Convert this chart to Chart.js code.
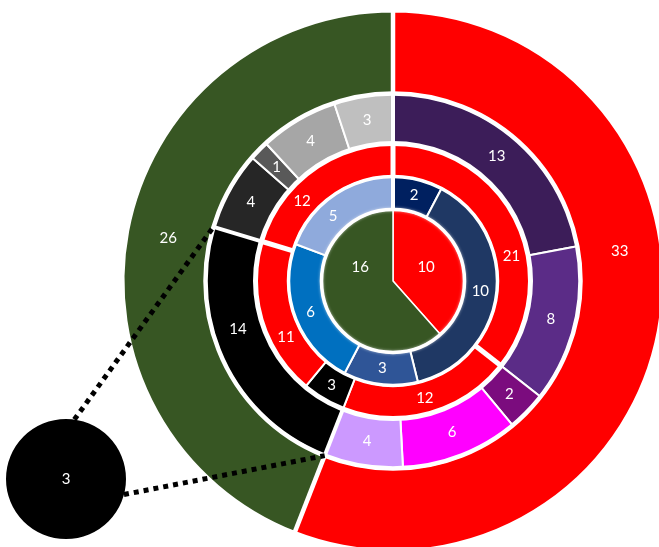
<!DOCTYPE html>
<html>
<head>
<meta charset="utf-8">
<script src="https://cdn.jsdelivr.net/npm/chart.js@4.4.1/dist/chart.umd.min.js"></script>
<style>
  html, body { margin: 0; padding: 0; background: #ffffff; overflow: hidden; width: 659px; height: 547px; }
  #main { position: absolute; left: 0; top: 0; }
  #bubble { position: absolute; left: 1px; top: 414px; }
</style>
</head>
<body>
<canvas id="main" width="680" height="560"></canvas>
<canvas id="bubble" width="130" height="130"></canvas>
<script>
// Values for each ring, listed clockwise from twelve o'clock
const outerValues = [33, 26];
const outerColors = ['#FF0000', '#375623'];

const ring4Values = [13, 8, 2, 6, 4, 14, 4, 1, 4, 3];
const ring4Colors = ['#3C1D59', '#5B2C87', '#7B0C7E', '#FF00FF', '#CC99FF',
                     '#000000', '#262626', '#595959', '#A6A6A6', '#BFBFBF'];

const ring3Values = [21, 12, 3, 11, 12];
const ring3Colors = ['#FF0000', '#FF0000', '#000000', '#FF0000', '#FF0000'];

const ring2Values = [2, 10, 3, 6, 5];
const ring2Colors = ['#002060', '#1F3864', '#2F5597', '#0070C0', '#8FAADC'];

const coreValues = [10, 16];
const coreColors = ['#FF0000', '#375623'];

const calloutValues = [3];
const calloutColors = ['#000000'];

const LABEL_FONT = '15px Lato, "Open Sans", sans-serif';

// Writes each slice's value inside the slice
const valueLabels = {
  id: 'valueLabels',
  afterDatasetsDraw(chart) {
    const ctx = chart.ctx;
    ctx.save();
    ctx.font = LABEL_FONT;
    ctx.fillStyle = '#FFFFFF';
    ctx.textAlign = 'center';
    ctx.textBaseline = 'middle';
    chart.data.datasets.forEach((ds, di) => {
      const meta = chart.getDatasetMeta(di);
      meta.data.forEach((arc, i) => {
        const f = ds.labelAt ? ds.labelAt[i] : 0.5;
        const fr = ds.labelRadius !== undefined ? ds.labelRadius : 0.5;
        const a = arc.startAngle + f * (arc.endAngle - arc.startAngle);
        const r = arc.innerRadius + fr * (arc.outerRadius - arc.innerRadius);
        ctx.fillText(String(ds.data[i]), arc.x + r * Math.cos(a), arc.y + r * Math.sin(a));
      });
    });
    ctx.restore();
  }
};

// White gaps between rings and wider cuts at group boundaries
const ringGaps = {
  id: 'ringGaps',
  afterDatasetsDraw(chart, args, opts) {
    const ctx = chart.ctx;
    const n = chart.data.datasets.length;
    ctx.save();
    ctx.strokeStyle = '#FFFFFF';
    ctx.lineCap = 'butt';
    for (let di = 1; di < n; di++) {
      const arc = chart.getDatasetMeta(di).data[0];
      ctx.lineWidth = opts.ringWidths[di - 1];
      if (di === n - 1) { ctx.shadowColor = 'rgba(255,255,255,0.55)'; ctx.shadowBlur = 3; }
      ctx.beginPath();
      ctx.arc(arc.x, arc.y, arc.outerRadius, 0, Math.PI * 2);
      ctx.stroke();
      ctx.shadowBlur = 0;
    }
    chart.data.datasets.forEach((ds, di) => {
      if (!ds.cutAfter) return;
      const meta = chart.getDatasetMeta(di);
      ctx.lineWidth = ds.cutWidth;
      ds.cutAfter.forEach(i => {
        const arc = meta.data[i];
        const a = arc.endAngle;
        const r0 = Math.max(arc.innerRadius - 1, 0), r1 = arc.outerRadius + 1;
        ctx.beginPath();
        ctx.moveTo(arc.x + r0 * Math.cos(a), arc.y + r0 * Math.sin(a));
        ctx.lineTo(arc.x + r1 * Math.cos(a), arc.y + r1 * Math.sin(a));
        ctx.stroke();
      });
    });
    ctx.restore();
  }
};

// Dotted leader lines from the callout circle to the black slice of the second ring
const calloutLines = {
  id: 'calloutLines',
  afterDatasetsDraw(chart, args, opts) {
    if (typeof calloutChart === 'undefined' || !calloutChart) return;
    const b = calloutChart.getDatasetMeta(0).data[0];
    const bx = calloutChart.canvas.offsetLeft - chart.canvas.offsetLeft + b.x;
    const by = calloutChart.canvas.offsetTop - chart.canvas.offsetTop + b.y;
    const br = b.outerRadius;
    const t = chart.getDatasetMeta(opts.dataset).data[opts.index];
    const ends = [t.endAngle, t.startAngle];
    const ctx = chart.ctx;
    ctx.save();
    ctx.strokeStyle = '#000000';
    ctx.lineWidth = 5;
    ctx.lineCap = 'butt';
    ctx.setLineDash([5, 5]);
    opts.fromAngles.forEach((deg, k) => {
      const a = deg * Math.PI / 180;
      ctx.beginPath();
      ctx.moveTo(bx + br * Math.cos(a), by + br * Math.sin(a));
      ctx.lineTo(t.x + t.outerRadius * Math.cos(ends[k]), t.y + t.outerRadius * Math.sin(ends[k]));
      ctx.stroke();
    });
    ctx.restore();
  }
};

// Callout circle
const calloutChart = new Chart(document.getElementById('bubble'), {
  type: 'pie',
  data: {
    labels: ['3'],
    datasets: [{
      data: calloutValues,
      backgroundColor: calloutColors,
      borderWidth: 0,
      labelRadius: 0
    }]
  },
  options: {
    responsive: false,
    animation: false,
    layout: { padding: 5 },
    plugins: { legend: { display: false }, tooltip: { enabled: false } },
    events: []
  },
  plugins: [valueLabels]
});

// Main multi-level ring chart
new Chart(document.getElementById('main'), {
  type: 'doughnut',
  data: {
    datasets: [
      { data: outerValues, backgroundColor: outerColors, borderColor: '#FFFFFF', borderWidth: 3,
        weight: 82.5, labelAt: [0.41, 0.5], cutAfter: [0, 1], cutWidth: 4.5 },
      { data: ring4Values, backgroundColor: ring4Colors, borderColor: '#FFFFFF', borderWidth: 2,
        weight: 50, labelAt: [0.5, 0.5, 0.5, 0.5, 0.5, 0.6, 0.5, 0.5, 0.5, 0.5], cutAfter: [4, 5, 9], cutWidth: 4 },
      { data: ring3Values, backgroundColor: ring3Colors, borderColor: '#FFFFFF', borderWidth: 2,
        weight: 33, labelAt: [0.61, 0.5, 0.5, 0.335, 0.335], cutAfter: [0, 3, 4], cutWidth: 5 },
      { data: ring2Values, backgroundColor: ring2Colors, borderColor: '#FFFFFF', borderWidth: 2,
        weight: 33, labelAt: [0.5, 0.5, 0.5, 0.5, 0.38], cutAfter: [4], cutWidth: 4 },
      { data: coreValues, backgroundColor: coreColors, borderColor: '#FFFFFF', borderWidth: 1.5,
        weight: 71.5, labelAt: [0.49, 0.7] }
    ]
  },
  options: {
    responsive: false,
    animation: false,
    cutout: 0,
    radius: 270,
    layout: { padding: { left: 123, top: 11, right: 17, bottom: 9 } },
    events: [],
    plugins: {
      legend: { display: false },
      tooltip: { enabled: false },
      ringGaps: { ringWidths: [4.5, 5, 3.5, 3.5] },
      calloutLines: { dataset: 1, index: 5, fromAngles: [-82, 15] }
    }
  },
  plugins: [ringGaps, calloutLines, valueLabels]
});
</script>
</body>
</html>
